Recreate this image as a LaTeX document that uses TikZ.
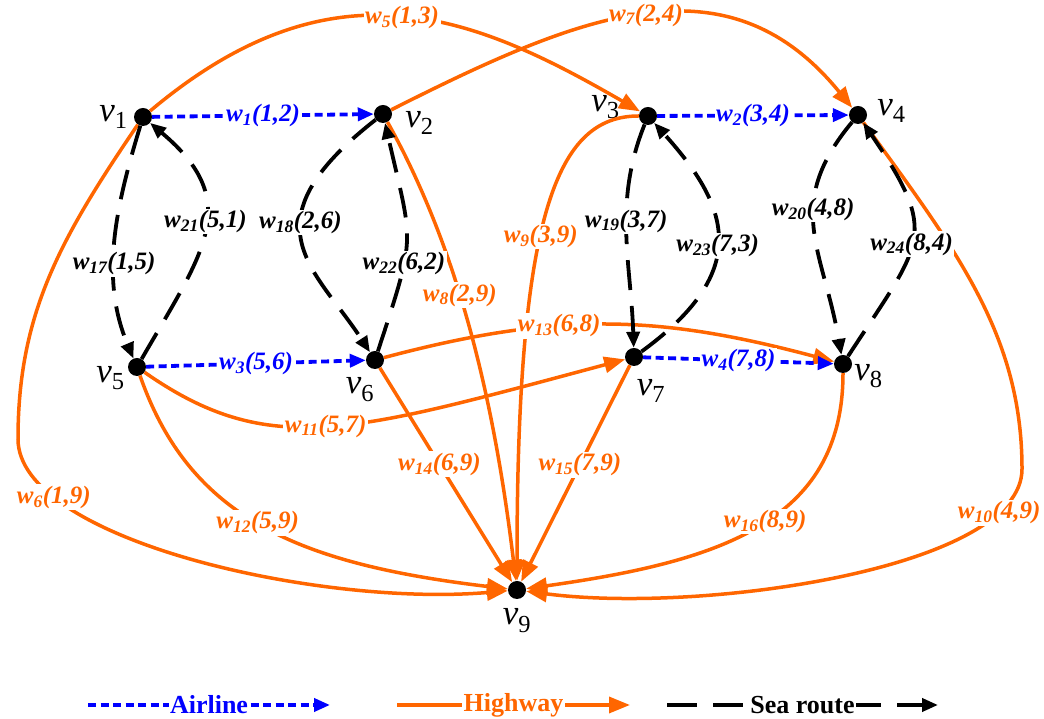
\documentclass[tikz,border=0pt]{standalone}
\usepackage{fontspec}
\setmainfont{Liberation Serif}
\usepackage{xcolor}
\usepackage{tikz}
\usetikzlibrary{arrows.meta,positioning}
\definecolor{hwyorange}{RGB}{255,102,0}
\newcommand{\vname}[1]{\textit{v}\textsubscript{#1}}
\newcommand{\wname}[2]{w\textsubscript{#1}(#2)}

\begin{document}
\begin{tikzpicture}[x=1pt, y=1pt, font=\fontsize{25}{28}\selectfont]
  \tikzset{vtx/.style={circle,fill=black,inner sep=0pt,minimum size=18pt},
    vlab/.style={inner sep=0pt,font=\fontsize{35}{38}\selectfont},
    wlab/.style={fill=white,inner sep=1.5pt,font=\fontsize{25}{28}\selectfont\bfseries\itshape},
    leglab/.style={fill=white,inner sep=1.5pt,font=\fontsize{26}{28}\selectfont\bfseries},
    airline/.style={blue,line width=3.8pt,dash pattern=on 8pt off 4.5pt,-{Triangle[length=16pt,width=13pt]}},
    highway/.style={hwyorange,line width=3.5pt,-{Triangle[length=21pt,width=16pt]}},
    searoute/.style={black,line width=3.8pt,dash pattern=on 30pt off 16pt,-{Triangle[length=16pt,width=13pt]}}}
  \useasboundingbox (0,0) rectangle (1044,719);

  % vertices
  \node[vtx] (v1) at (143,602) {};
  \node[vtx] (v2) at (383,605) {};
  \node[vtx] (v3) at (648,603) {};
  \node[vtx] (v4) at (858,604) {};
  \node[vtx] (v5) at (137,352) {};
  \node[vtx] (v6) at (375,359) {};
  \node[vtx] (v7) at (634,362) {};
  \node[vtx] (v8) at (843,355) {};
  \node[vtx] (v9) at (517,129) {};
  \node[vlab, left=6pt of v1] (l1) {\vname{1}};
  \node[vlab, right=13pt of v2, yshift=-9pt] (l2) {\vname{2}};
  \node[vlab, left=19pt of v3, yshift=9pt] (l3) {\vname{3}};
  \node[vlab, right=10pt of v4, yshift=4pt] (l4) {\vname{4}};
  \node[vlab, left=3pt of v5, yshift=-11pt] (l5) {\vname{5}};
  \node[vlab, below=8pt of v6, xshift=-15pt] (l6) {\vname{6}};
  \node[vlab, below=13pt of v7, xshift=17pt] (l7) {\vname{7}};
  \node[vlab, right=2pt of v8, yshift=-12pt] (l8) {\vname{8}};
  \node[vlab, below=9pt of v9] (l9) {\vname{9}};
  \coordinate (t6) at (18,280);
  \coordinate (t10) at (1022,250);

  % highways
  \draw[highway] (v1) .. controls (334,763) and (475,703) .. node[wlab] (w5) {\wname{5}{1,3}} (v3);
  \draw[highway] (v2) .. controls (581,705) and (727,765) .. node[wlab] (w7) {\wname{7}{2,4}} (v4);
  \draw[highway] (v1) .. controls (60,480) and (18,405) .. (t6)
    .. controls (18,180) and (317,112) .. node[wlab,pos=0.21] (w6) {\wname{6}{1,9}} (v9);
  \draw[highway] (v4) .. controls (955,470) and (1022,385) .. (t10)
    .. controls (1022,150) and (700,105) .. node[wlab,pos=0.16] (w10) {\wname{10}{4,9}} (v9);
  \draw[highway] (v2) .. controls (456,474) and (493,328) .. node[wlab,pos=0.43] (w8) {\wname{8}{2,9}} (v9);
  \draw[highway] (v3) .. controls (558,603) and (517,509) .. node[wlab,pos=0.56] (w9) {\wname{9}{3,9}} (v9);
  \draw[highway] (v5) .. controls (270,259) and (353,287) .. node[wlab,pos=0.49] (w11) {\wname{11}{5,7}} (v7);
  \draw[highway] (v5) .. controls (190,200) and (300,155) .. node[wlab,pos=0.48] (w12) {\wname{12}{5,9}} (v9);
  \draw[highway] (v6) .. controls (559,408) and (659,404) .. node[wlab,pos=0.38] (w13) {\wname{13}{6,8}} (v8);
  \draw[highway] (v6) -- node[wlab,pos=0.45] (w14) {\wname{14}{6,9}} (v9);
  \draw[highway] (v7) -- node[wlab,pos=0.46] (w15) {\wname{15}{7,9}} (v9);
  \draw[highway] (v8) .. controls (843,195) and (715,157) .. node[wlab,pos=0.47] (w16) {\wname{16}{8,9}} (v9);

  % sea routes
  \draw[searoute] (v1) .. controls (115,510) and (100,440) .. node[wlab,pos=0.59] (w17) {\wname{17}{1,5}} (v5);
  \draw[searoute] (v5) .. controls (204,468) and (244,517) .. node[wlab,pos=0.54] (w21) {\wname{21}{5,1}} (v1);
  \draw[searoute] (v2) .. controls (242,495) and (316,450) .. node[wlab,pos=0.4] (w18) {\wname{18}{2,6}} (v6);
  \draw[searoute] (v6) .. controls (417,487) and (413,473) .. node[wlab,pos=0.35] (w22) {\wname{22}{6,2}} (v2);
  \draw[searoute] (v3) .. controls (613,516) and (631,456) .. node[wlab,pos=0.44] (w19) {\wname{19}{3,7}} (v7);
  \draw[searoute] (v7) .. controls (755,450) and (727,515) .. node[wlab,pos=0.46] (w23) {\wname{23}{7,3}} (v3);
  \draw[searoute] (v4) .. controls (783,514) and (823,470) .. node[wlab,pos=0.4] (w20) {\wname{20}{4,8}} (v8);
  \draw[searoute] (v8) .. controls (923,478) and (940,483) .. node[wlab,pos=0.47] (w24) {\wname{24}{8,4}} (v4);

  % airlines
  \draw[airline] (v1) -- node[wlab] (w1) {\wname{1}{1,2}} (v2);
  \draw[airline] (v3) -- node[wlab] (w2) {\wname{2}{3,4}} (v4);
  \draw[airline] (v5) -- node[wlab] (w3) {\wname{3}{5,6}} (v6);
  \draw[airline] (v7) -- node[wlab] (w4) {\wname{4}{7,8}} (v8);

  % legend
  \coordinate (a0) at (88,14);  \coordinate (a1) at (330,14);
  \coordinate (h0) at (397,14); \coordinate (h1) at (630,14);
  \coordinate (s0) at (667,14); \coordinate (s1) at (938,14);
  \draw[airline] (a0) -- node[leglab] (airtxt) {Airline} (a1);
  \draw[highway] (h0) -- node[leglab] (hwytxt) {Highway} (h1);
  \draw[searoute] (s0) -- node[leglab] (seatxt) {Sea route} (s1);
\end{tikzpicture}
\end{document}
